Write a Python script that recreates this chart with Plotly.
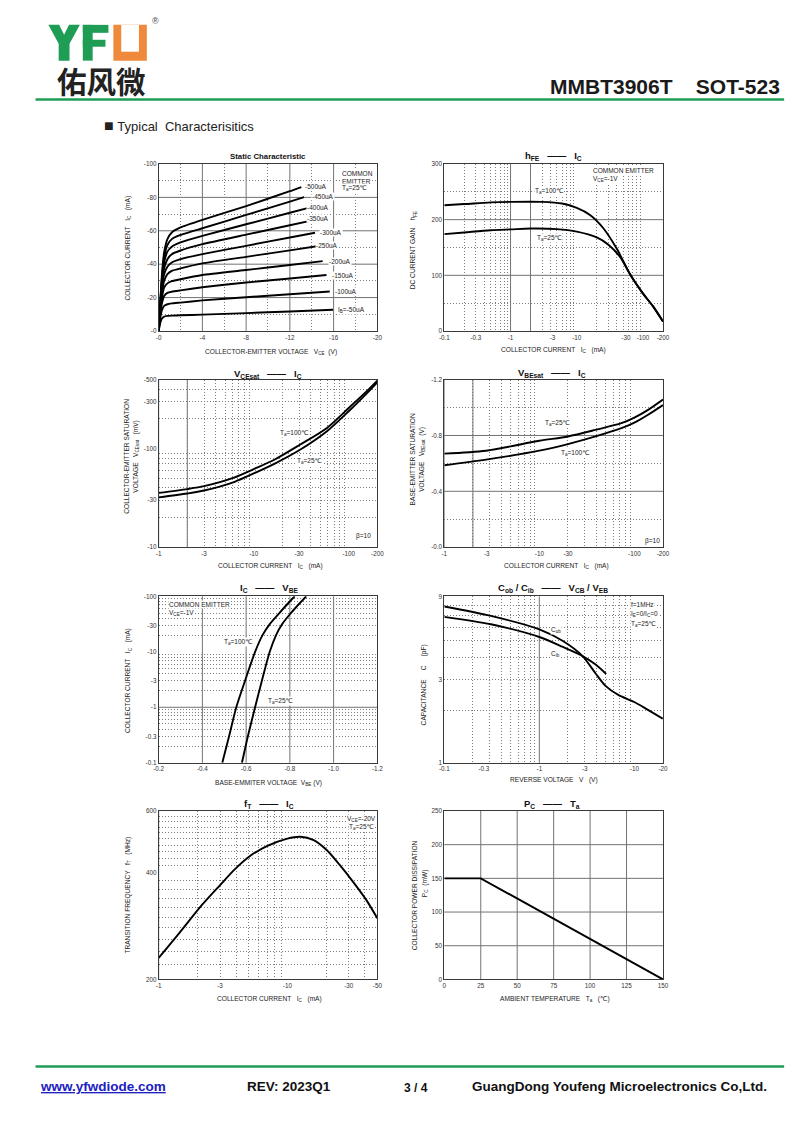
import numpy as np
import plotly.graph_objects as go

W, H = 800, 1130
SP = "\u00a0"
FONT = "Liberation Sans, Arial, DejaVu Sans, sans-serif"
NARROW = "Liberation Sans Narrow, Arial Narrow, Liberation Sans, sans-serif"
GREEN = "#1f9d55"
ORANGE = "#ef8a3c"
SOLID = "#737373"
DOT = "#7c7c7c"
FRAME = "#3a3a3a"
INK = "#222222"

# ---------------- data ----------------
# Static characteristic: VCE (V) vs IC (mA), one curve per base current
static_vce = [0, -0.15, -0.3, -0.5, -0.8, -1.2, -2, -4, -8, -12]
static_vce_end = [-13.05, -13.3, -13.7, -13.95, -14.3, -14.6, -15.0, -15.35, -15.65, -15.95]
static_labels = ["-500uA", "-450uA", "-400uA", "-350uA", "-300uA", "-250uA",
                 "-200uA", "-150uA", "-100uA", "I<sub>B</sub>=-50uA"]
ic_ib500 = [0, -18, -34, -47, -55, -59, -62, -66.5, -74.8, -83.7, -86.2]
ic_ib450 = [0, -17, -32, -44, -51.5, -55, -57.5, -61.5, -69.5, -77.5, -80.2]
ic_ib400 = [0, -16, -30, -41, -47.5, -50.5, -53, -57, -63.9, -70.8, -73.7]
ic_ib350 = [0, -15, -28, -37.5, -43, -46, -48.2, -52, -57.7, -63.3, -66.1]
ic_ib300 = [0, -14, -25.5, -34, -38.5, -41, -43, -46, -51, -56, -58.8]
ic_ib250 = [0, -13, -23, -30, -34, -36, -37.5, -40.5, -44.4, -48.3, -50.9]
ic_ib200 = [0, -12, -20, -26, -28.5, -29.8, -31, -33.5, -36.5, -39.5, -41.8]
ic_ib150 = [0, -10, -16.5, -21, -22.8, -23.5, -24.3, -26.2, -29, -31.4, -33.5]
ic_ib100 = [0, -8, -12.5, -15, -16, -16.5, -17, -18.3, -20.2, -22, -23.6]
ic_ib50 = [0, -5, -7.5, -8.6, -9.0, -9.2, -9.4, -9.8, -10.7, -11.7, -12.7]

# hFE vs |IC| (mA)
hfe_ic_100 = [0.1, 0.2, 0.5, 1, 3, 6, 10, 16, 25, 40, 65, 100, 140, 200]
hfe_100 = [226, 228, 231, 232, 232, 229, 221, 208, 185, 148, 100, 67, 45, 17]
hfe_ic_25 = [0.1, 0.2, 0.5, 1, 2, 5, 10, 20, 30, 45, 65, 100, 140, 200]
hfe_25 = [174, 177, 181, 182.5, 184, 183, 178.5, 168, 155, 133, 100, 67, 45, 17]

# |VCE(sat)| (mV) vs |IC| (mA)
vcesat_ic = [1, 2, 3, 6.3, 10, 16.5, 31, 59, 100, 154, 200]
vcesat_100 = [35.5, 38.8, 41.5, 51, 62, 77, 110, 162, 258, 380, 489]
vcesat_25 = [32, 35, 37.5, 46, 55.9, 70, 97.7, 150, 239, 361, 470]

# VBE(sat) (V) vs |IC| (mA)
vbesat_ic = [1, 2.75, 10, 20, 39, 73, 100, 138, 200]
vbesat_25 = [-0.67, -0.691, -0.762, -0.793, -0.84, -0.888, -0.928, -0.982, -1.058]
vbesat_100 = [-0.587, -0.627, -0.691, -0.738, -0.793, -0.852, -0.892, -0.947, -1.018]

# |IC| (mA) vs VBE (V)
icvbe_ic = [0.1, 0.3, 1, 3, 10, 20, 31.6, 50, 75, 100]
icvbe_100 = [-0.491, -0.522, -0.555, -0.595, -0.641, -0.675, -0.708, -0.752, -0.792, -0.822]
icvbe_25 = [-0.581, -0.608, -0.641, -0.672, -0.708, -0.737, -0.765, -0.805, -0.845, -0.875]

# capacitance (pF) vs |reverse voltage| (V)
cob_v = [0.1, 0.309, 1, 1.77, 2.85, 3.91, 4.97, 6.83, 10, 13.9, 19.9]
cob_c = [7.87, 6.95, 5.82, 4.99, 4.09, 3.25, 2.76, 2.44, 2.23, 2.01, 1.79]
cib_v = [0.1, 0.309, 1, 1.77, 2.85, 3.91, 5.05]
cib_c = [6.86, 6.22, 5.26, 4.61, 4.09, 3.66, 3.23]

# fT (MHz) vs |IC| (mA)
ft_ic = [1, 1.44, 2.17, 3.0, 3.9, 5.25, 7.0, 10, 12.6, 16, 20.2, 25.5, 32.4, 41, 50]
ft_mhz = [230, 270, 325, 370, 410, 450, 478, 501, 507, 496, 465, 422, 378, 336, 298]

# PC (mW) vs Ta (C)
pc_ta = [0, 25, 150]
pc_mw = [150, 150, 0]

# ---------------- page geometry (pixels) ----------------
LX, RX = (156, 378), (446, 668)
ROWS = [(161, 329), (378, 546.5), (596, 763.5), (812, 981.5)]
BOX = {1: (LX, ROWS[0]), 2: (RX, ROWS[0]), 3: (LX, ROWS[1]), 4: (RX, ROWS[1]),
       5: (LX, ROWS[2]), 6: (RX, ROWS[2]), 7: (LX, ROWS[3]), 8: (RX, ROWS[3])}


def xref(i):
    return "x" if i == 1 else f"x{i}"


def yref(i):
    return "y" if i == 1 else f"y{i}"


fig = go.Figure()
shapes, notes, axes = [], [], {}


def note(x, y, text, size=6.5, xanchor="left", angle=0, color=INK, font=FONT, bg=None):
    d = dict(x=x / W, y=1 - y / H, xref="paper", yref="paper", text=text, showarrow=False,
             xanchor=xanchor, yanchor="middle", textangle=angle, borderpad=0,
             font=dict(size=size, color=color, family=font))
    if bg:
        d["bgcolor"] = bg
    notes.append(d)


def curve(i, xs, ys, smoothing=0.8):
    fig.add_trace(go.Scatter(x=xs, y=ys, xaxis=xref(i), yaxis=yref(i), mode="lines",
                             line=dict(color="black", width=1.9, shape="spline", smoothing=smoothing),
                             hoverinfo="skip", showlegend=False))


def axis(i, which, rng, typ, tickvals, ticktext, minor=None):
    (x0, x1), (y0, y1) = BOX[i]
    if which == "x":
        dom, anchor = [x0 / W, x1 / W], yref(i)
    else:
        dom, anchor = [1 - y1 / H, 1 - y0 / H], xref(i)
    d = dict(domain=dom, anchor=anchor, type=typ, range=rng, tickmode="array",
             tickvals=tickvals, ticktext=ticktext, showgrid=False, zeroline=False,
             showline=True, mirror=True, linecolor=FRAME, linewidth=1, ticks="",
             tickfont=dict(size=6.3, color="#333", family=FONT), fixedrange=True)
    if minor:
        d["minor"] = dict(tickmode="array", tickvals=minor, showgrid=True, gridcolor=DOT,
                          griddash="1px,2px", gridwidth=0.8, ticks="")
    key = ("xaxis" if which == "x" else "yaxis") + ("" if i == 1 else str(i))
    axes[key] = d


def solid(i, which, vals, log=False):
    for v in vals:
        p = float(np.log10(v)) if log else v
        if which == "x":
            shapes.append(dict(type="line", xref=xref(i), yref=yref(i) + " domain", x0=p, x1=p,
                               y0=0, y1=1, line=dict(color=SOLID, width=1), layer="below"))
        else:
            shapes.append(dict(type="line", xref=xref(i) + " domain", yref=yref(i), x0=0, x1=1,
                               y0=p, y1=p, line=dict(color=SOLID, width=1), layer="below"))


def prect(x0, y0, x1, y1, color):
    shapes.append(dict(type="rect", xref="paper", yref="paper", x0=x0 / W, x1=x1 / W,
                       y0=1 - y1 / H, y1=1 - y0 / H, fillcolor=color, line=dict(width=0)))


def hline(y, x0, x1, color, width):
    shapes.append(dict(type="line", xref="paper", yref="paper", x0=x0 / W, x1=x1 / W,
                       y0=1 - y / H, y1=1 - y / H, line=dict(color=color, width=width)))


minor_log = lambda lo, hi: [m * 10 ** e for e in range(lo, hi) for m in range(2, 10)]

# ---- 1: static characteristic ----
static_sets = [ic_ib500, ic_ib450, ic_ib400, ic_ib350, ic_ib300,
               ic_ib250, ic_ib200, ic_ib150, ic_ib100, ic_ib50]
for ic, vend in zip(static_sets, static_vce_end):
    curve(1, static_vce + [vend], ic, smoothing=0.4)
axis(1, "x", [0, -20], "linear", [0, -4, -8, -12, -16, -20], ["-0", "-4", "-8", "-12", "-16", "-20"],
     [-2, -6, -10, -14, -18])
axis(1, "y", [0, -100], "linear", [0, -20, -40, -60, -80, -100],
     ["-0", "-20", "-40", "-60", "-80", "-100"], [-10, -30, -50, -70, -90])
solid(1, "x", [-4, -8, -12, -16])
solid(1, "y", [-20, -40, -60, -80])
label_xy = [(304, 184), (310.7, 194), (305.7, 204.3), (305.7, 216), (319, 230), (315, 243.3),
            (327.7, 258.7), (331, 272.7), (334.3, 289.3), (337.3, 307.7)]
for (lx, ly), t in zip(label_xy, static_labels):
    note(lx, ly, t, bg="white")
note(341, 171, "COMMON", bg="white")
note(341, 178.3, "EMITTER", bg="white")
note(341, 185.5, "T<sub>a</sub>=25℃", bg="white")
note(267, 153, "<b>Static Characteristic</b>", size=7.8, xanchor="center", color="#111")
note(125, 246, "COLLECTOR CURRENT" + SP * 3 + "I<sub>C</sub>" + SP * 3 + "(mA)", size=6.6,
     xanchor="center", angle=-90)
note(270, 350, "COLLECTOR-EMITTER VOLTAGE" + SP * 3 + "V<sub>CE</sub>" + SP * 2 + "(V)", size=6.6,
     xanchor="center")

# ---- 2: hFE vs IC ----
curve(2, hfe_ic_100, hfe_100)
curve(2, hfe_ic_25, hfe_25)
axis(2, "x", [-1, np.log10(200)], "log", [0.1, 0.3, 1, 4.3, 10, 55, 100, 200],
     ["-0.1", "-0.3", "-1", "-3", "-10", "-30", "-100", "-200"], minor_log(-1, 2))
axis(2, "y", [0, 300], "linear", [0, 100, 200, 300], ["0", "100", "200", "300"], [50, 150, 250])
solid(2, "x", [1, 10, 100], log=True)
solid(2, "y", [100, 200])
note(596, 168, "COMMON EMITTER", bg="white")
note(596, 176.5, "V<sub>CE</sub>=-1V", bg="white")
note(537.3, 188.3, "T<sub>a</sub>=100℃", bg="white")
note(539.3, 235, "T<sub>a</sub>=25℃", bg="white")
note(557, 153, "<b>h<sub>FE</sub>" + SP * 3 + "——" + SP * 3 + "I<sub>C</sub></b>", size=9.5,
     xanchor="center", color="#111")
note(415, 248, "DC CURRENT GAIN" + SP * 4 + "h<sub>FE</sub>", size=6.6, xanchor="center", angle=-90)
note(557, 348, "COLLECTOR CURRENT" + SP * 3 + "I<sub>C</sub>" + SP * 3 + "(mA)", size=6.6,
     xanchor="center")

# ---- 3: VCE(sat) vs IC ----
curve(3, vcesat_ic, vcesat_100)
curve(3, vcesat_ic, vcesat_25)
axis(3, "x", [0, np.log10(200)], "log", [1, 3, 10, 30, 100, 200],
     ["-1", "-3", "-10", "-30", "-100", "-200"], minor_log(0, 2))
axis(3, "y", [1, np.log10(500)], "log", [10, 30, 100, 300, 500],
     ["-10", "-30", "-100", "-300", "-500"], minor_log(1, 2) + [200, 300, 400])
solid(3, "x", [10, 100], log=True)
solid(3, "y", [100], log=True)
note(277.7, 431.7, "T<sub>a</sub>=100℃", bg="white")
note(295, 460, "T<sub>a</sub>=25℃", bg="white")
note(355, 535, "β=10", bg="white")
note(267, 372, "<b>V<sub>CEsat</sub>" + SP * 3 + "——" + SP * 3 + "I<sub>C</sub></b>", size=9.5,
     xanchor="center", color="#111")
note(128.5, 455, "COLLECTOR-EMITTER SATURATION<br>VOLTAGE" + SP * 3 + "V<sub>CEsat</sub>" + SP * 3 + "(mV)",
     size=6.6, xanchor="center", angle=-90)
note(270, 566, "COLLECTOR CURRENT" + SP * 3 + "I<sub>C</sub>" + SP * 3 + "(mA)", size=6.6,
     xanchor="center")

# ---- 4: VBE(sat) vs IC ----
curve(4, vbesat_ic, vbesat_25)
curve(4, vbesat_ic, vbesat_100)
axis(4, "x", [0, np.log10(200)], "log", [1, 2.8, 10, 20, 100, 200],
     ["-1", "-3", "-10", "-30", "-100", "-200"], minor_log(0, 2))
axis(4, "y", [0, -1.2], "linear", [0, -0.4, -0.8, -1.2], ["-0.0", "-0.4", "-0.8", "-1.2"],
     [-0.2, -0.6, -1.0])
solid(4, "x", [10, 100], log=True)
solid(4, "y", [-0.4, -0.8])
note(547.7, 421.7, "T<sub>a</sub>=25℃", bg="white")
note(563.3, 451.7, "T<sub>a</sub>=100℃", bg="white")
note(648.3, 540, "β=10", bg="white")
note(555, 371.5, "<b>V<sub>BEsat</sub>" + SP * 3 + "——" + SP * 3 + "I<sub>C</sub></b>", size=9.5,
     xanchor="center", color="#111")
note(418.5, 458, "BASE-EMITTER SATURATION<br>VOLTAGE" + SP * 3 + "V<sub>BEsat</sub>" + SP * 2 + "(V)",
     size=6.6, xanchor="center", angle=-90)
note(560, 566, "COLLECTOR CURRENT" + SP * 3 + "I<sub>C</sub>" + SP * 3 + "(mA)", size=6.6,
     xanchor="center")

# ---- 5: IC vs VBE ----
curve(5, icvbe_100, icvbe_ic)
curve(5, icvbe_25, icvbe_ic)
axis(5, "x", [-0.2, -1.2], "linear", [-0.2, -0.4, -0.6, -0.8, -1.0, -1.2],
     ["-0.2", "-0.4", "-0.6", "-0.8", "-1.0", "-1.2"])
axis(5, "y", [-1, 2], "log", [0.1, 0.3, 1, 3, 10, 30, 100],
     ["-0.1", "-0.3", "-1", "-3", "-10", "-30", "-100"], minor_log(-1, 2))
solid(5, "x", [-0.4, -0.6, -0.8, -1.0])
solid(5, "y", [1, 10], log=True)
note(165, 604.3, "COMMON EMITTER", bg="white")
note(165, 612.5, "V<sub>CE</sub>=-1V", bg="white")
note(221.7, 641.7, "T<sub>a</sub>=100℃", bg="white")
note(265.7, 701.7, "T<sub>a</sub>=25℃", bg="white")
note(268, 588, "<b>I<sub>C</sub>" + SP * 3 + "——" + SP * 3 + "V<sub>BE</sub></b>", size=9.5,
     xanchor="center", color="#111")
note(125, 681, "COLLECTOR CURRENT" + SP * 3 + "I<sub>C</sub>" + SP * 3 + "(mA)", size=6.6,
     xanchor="center", angle=-90)
note(268, 784, "BASE-EMMITER VOLTAGE" + SP * 2 + "V<sub>BE</sub>" + SP + "(V)", size=6.6,
     xanchor="center")

# ---- 6: capacitance ----
curve(6, cob_v, cob_c)
curve(6, cib_v, cib_c)
axis(6, "x", [-1, np.log10(20)], "log", [0.1, 0.26, 1, 3, 10, 20],
     ["-0.1", "-0.3", "-1", "-3", "-10", "-20"], minor_log(-1, 1))
axis(6, "y", [0, np.log10(9)], "log", [1, 3, 9], ["1", "3", "9"], [2, 3, 4, 5, 6, 7, 8])
solid(6, "x", [1, 10], log=True)
note(635, 604.5, "f=1MHz", bg="white")
note(635, 613.5, "I<sub>E</sub>=0/I<sub>C</sub>=0", bg="white")
note(635, 623.5, "T<sub>a</sub>=25℃", bg="white")
note(553.3, 630, "C<sub>ob</sub>", bg="white")
note(553.3, 654.3, "C<sub>ib</sub>", bg="white")
note(556, 588, "<b>C<sub>ob</sub> / C<sub>ib</sub>" + SP * 3 + "——" + SP * 3 +
     "V<sub>CB</sub> / V<sub>EB</sub></b>", size=9.5, xanchor="center", color="#111")
note(425, 685, "CAPACITANCE" + SP * 5 + "C" + SP * 5 + "(pF)", size=6.6, xanchor="center", angle=-90)
note(557.5, 781, "REVERSE VOLTAGE" + SP * 3 + "V" + SP * 3 + "(V)", size=6.6, xanchor="center")

# ---- 7: fT vs IC ----
curve(7, ft_ic, ft_mhz)
axis(7, "x", [0, np.log10(50)], "log", [1, 3, 10, 30, 50], ["-1", "-3", "-10", "-30", "-50"],
     [2, 3, 4, 5, 6, 7, 8, 9, 20, 30, 40])
axis(7, "y", [np.log10(200), np.log10(600)], "log", [200, 400, 600], ["200", "400", "600"],
     [v for v in range(220, 600, 20) if v != 400])
solid(7, "x", [10], log=True)
solid(7, "y", [400], log=True)
note(346.7, 820, "V<sub>CE</sub>=-20V", bg="white")
note(348.3, 828.5, "T<sub>a</sub>=25℃", bg="white")
note(268, 805, "<b>f<sub>T</sub>" + SP * 3 + "——" + SP * 3 + "I<sub>C</sub></b>", size=9.5,
     xanchor="center", color="#111")
note(125, 897, "TRANSITION FREQUENCY" + SP * 3 + "f<sub>T</sub>" + SP * 3 + "(MHz)", size=6.6,
     xanchor="center", angle=-90)
note(268.5, 1001, "COLLECTOR CURRENT" + SP * 3 + "I<sub>C</sub>" + SP * 3 + "(mA)", size=6.6,
     xanchor="center")

# ---- 8: PC vs Ta ----
curve(8, pc_ta, pc_mw, smoothing=0)
axis(8, "x", [0, 150], "linear", [0, 25, 50, 75, 100, 125, 150],
     ["0", "25", "50", "75", "100", "125", "150"])
axis(8, "y", [0, 250], "linear", [0, 50, 100, 150, 200, 250], ["0", "50", "100", "150", "200", "250"])
solid(8, "x", [25, 50, 75, 100, 125])
solid(8, "y", [50, 100, 150, 200])
note(555.5, 805, "<b>P<sub>C</sub>" + SP * 3 + "——" + SP * 3 + "T<sub>a</sub></b>", size=9.5,
     xanchor="center", color="#111")
note(416, 897, "COLLECTOR POWER DISSIPATION", size=6.6, xanchor="center", angle=-90)
note(426, 885, "P<sub>C</sub>" + SP * 2 + "(mW)", size=6.6, xanchor="center", angle=-90)
note(558, 1001.5, "AMBIENT TEMPERATURE" + SP * 3 + "T<sub>a</sub>" + SP * 3 + "(℃)", size=6.6,
     xanchor="center")

# ---------------- header / footer ----------------
shapes.append(dict(type="path", xref="paper", yref="paper", fillcolor=GREEN, line=dict(width=0),
                   path="M " + " L ".join(f"{x / W:.5f},{1 - y / H:.5f}" for x, y in
                                          [(44, 21), (55, 21), (60, 31), (65, 21), (76, 21),
                                           (65.5, 40), (65.5, 57), (54.5, 57), (54.5, 40)]) + " Z"))
prect(79, 21, 89, 57, GREEN)
prect(79, 21, 105, 29, GREEN)
prect(79, 36, 102, 43, GREEN)
prect(110, 21, 144, 57, ORANGE)
prect(118, 21, 136, 48, "white")
note(153, 17, "®", size=9, xanchor="center", color="#444")
note(98, 76, "<b>佑风微</b>", size=29.5, xanchor="center", color="#222", font="Noto Sans CJK SC")
note(788, 83, "<b>MMBT3906T" + SP * 4 + "SOT-523</b>", size=21, xanchor="right", color="#1a1a1a",
     font=NARROW)
hline(96, 31, 791, GREEN, 2.5)
note(99, 122, "<span style='font-size:16px'>■</span>" + SP + "Typical" + SP * 2 + "Characterisitics",
     size=13, color="#222")

hline(1069, 31, 791, GREEN, 2.5)
note(35, 1089, "<b><u>www.yfwdiode.com</u></b>", size=13.5, color="#2020c0", font=NARROW)
note(245, 1089, "<b>REV: 2023Q1</b>", size=13.5, color="#111", font=NARROW)
note(404, 1091, "<b>3 / 4</b>", size=12, color="#111", font=NARROW)
note(473, 1089, "<b>GuangDong Youfeng Microelectronics Co,Ltd.</b>", size=13.5, color="#111", font=NARROW)

fig.update_layout(width=W, height=H, margin=dict(l=0, r=0, t=0, b=0), paper_bgcolor="white",
                  plot_bgcolor="white", showlegend=False, shapes=shapes, annotations=notes, **axes)
fig.write_html("out.html", config={"displayModeBar": False},
               post_script="document.body.style.margin='0px';document.body.style.overflow='hidden';")
